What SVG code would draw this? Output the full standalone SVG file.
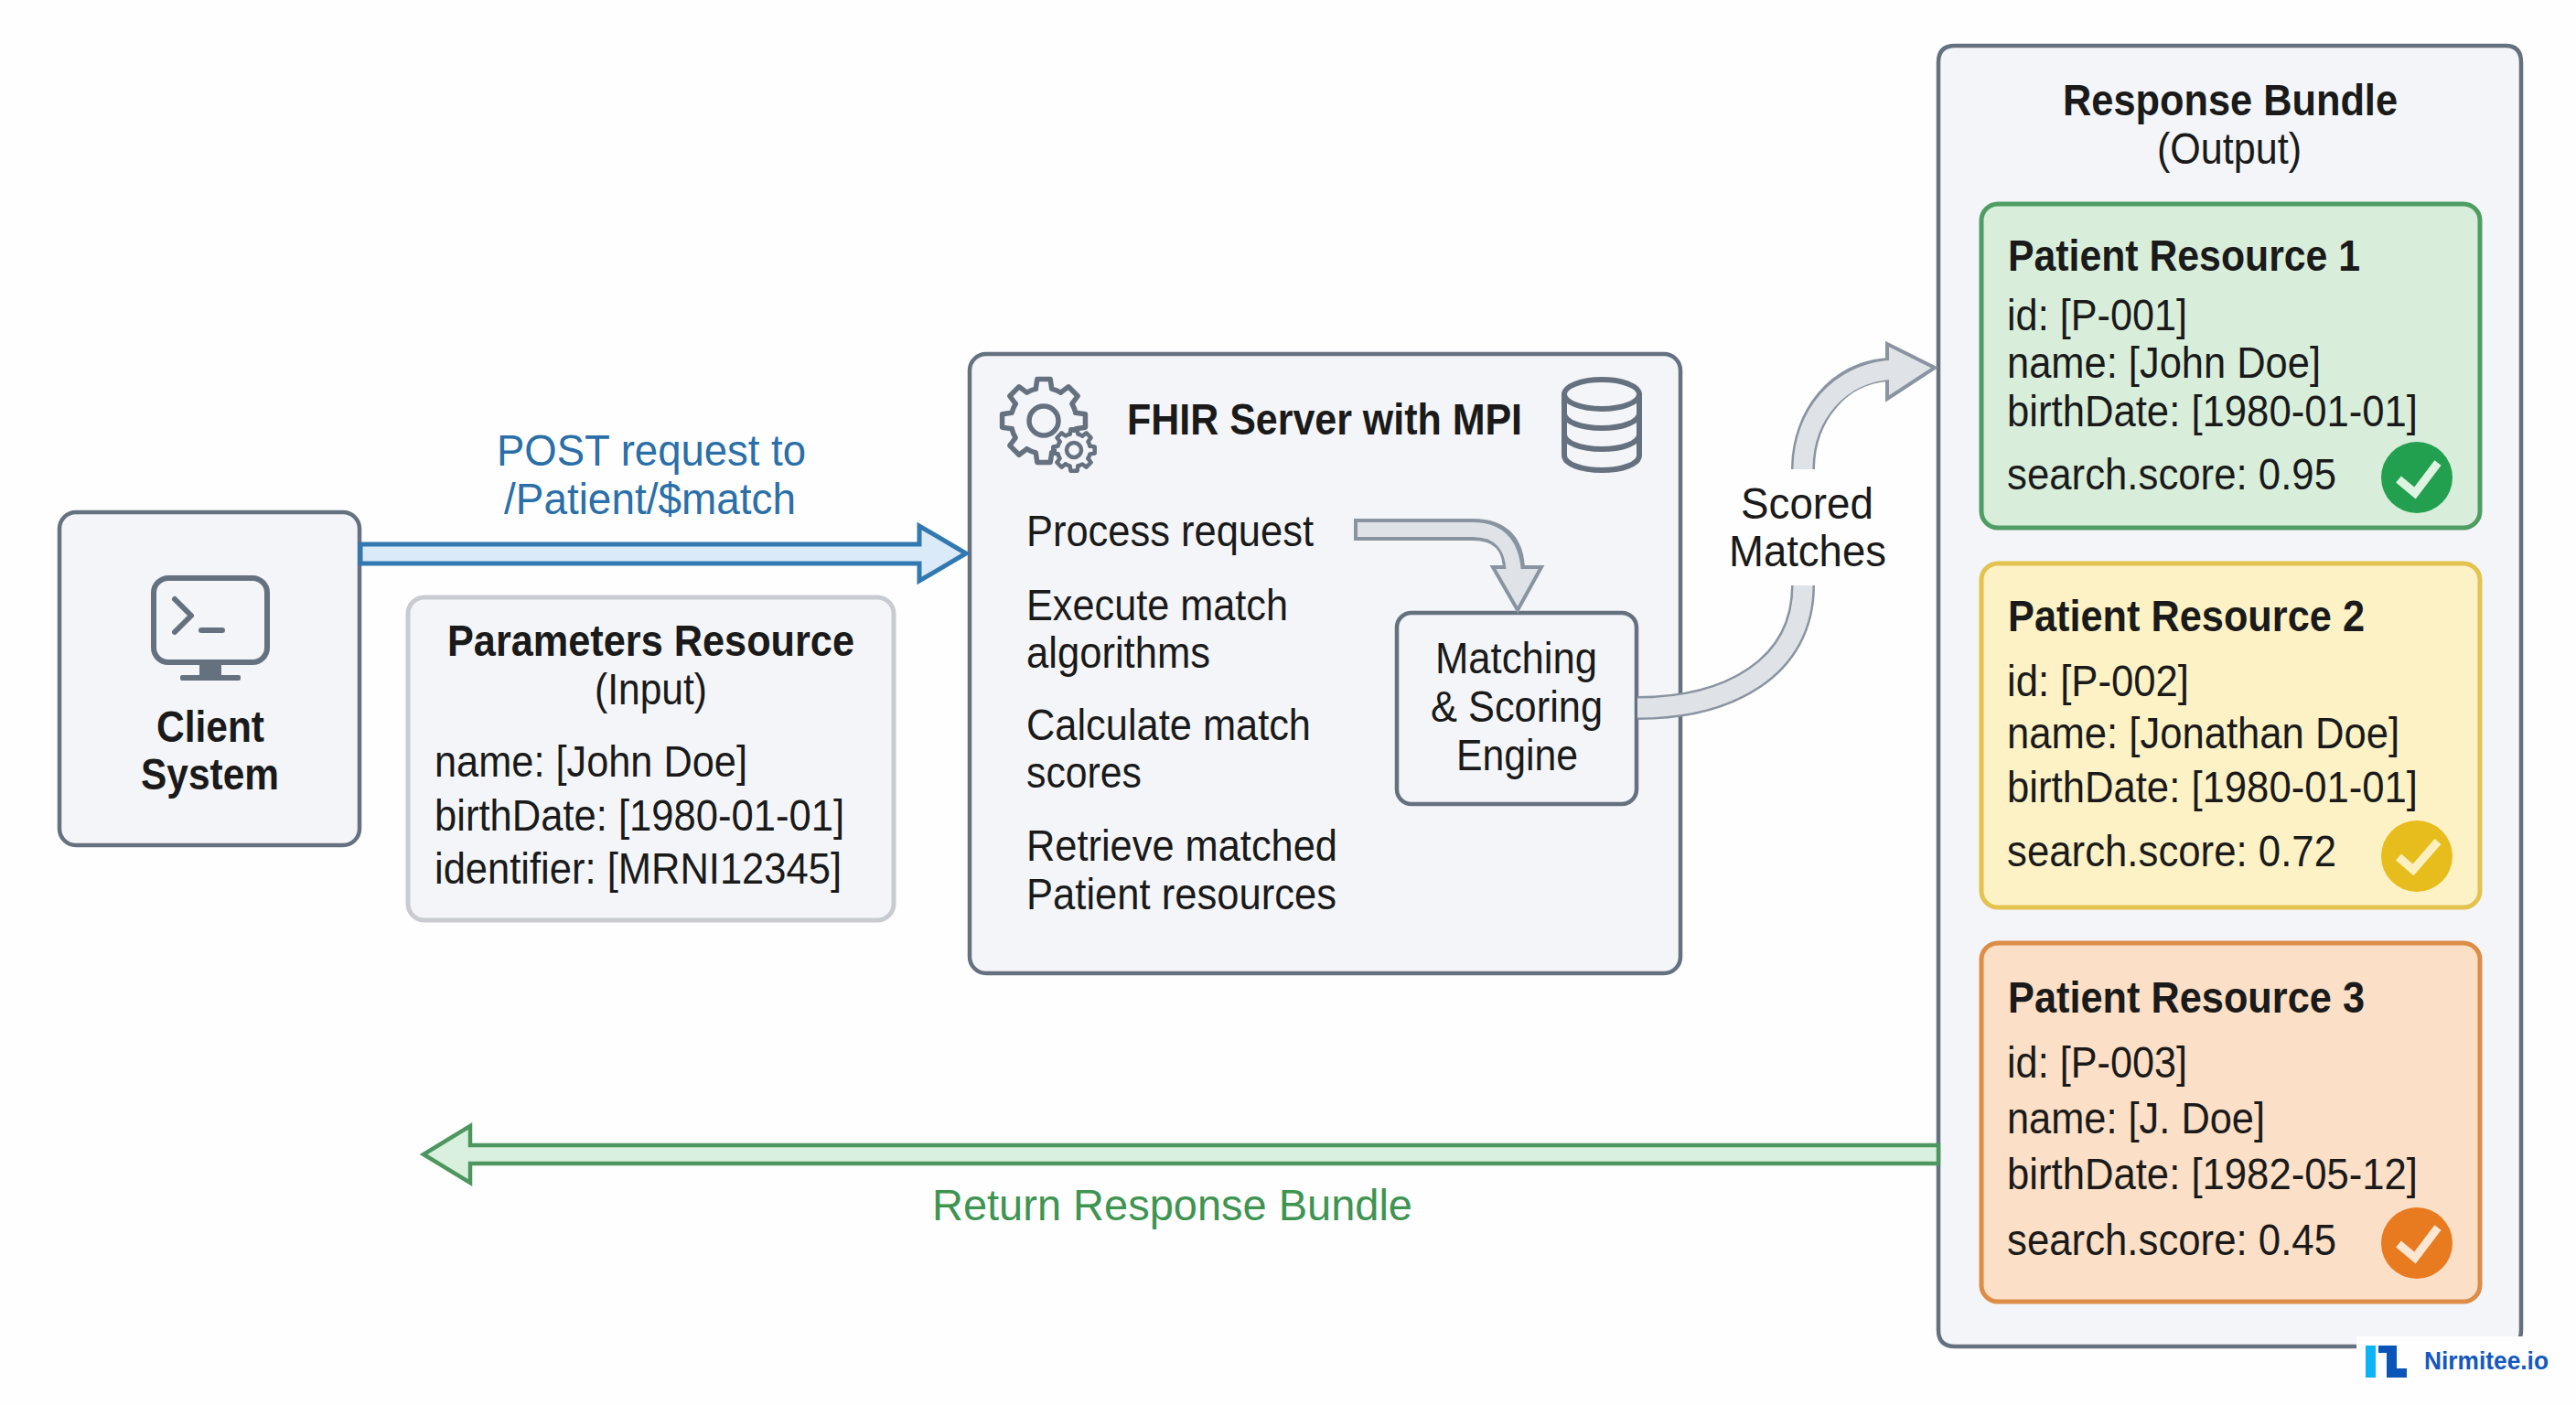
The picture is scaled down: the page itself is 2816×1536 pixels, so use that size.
<svg xmlns="http://www.w3.org/2000/svg" xmlns:xlink="http://www.w3.org/1999/xlink" width="2816" height="1536" viewBox="0 0 2816 1536">
<style>
text{font-family:"Liberation Sans",Arial,sans-serif;font-size:49px;fill:#1a1a1a}
.b{font-weight:700}
.box{fill:#f3f5f8;stroke:#667180;stroke-width:4.5}
.ico{fill:none;stroke:#667180;stroke-width:6;stroke-linejoin:round;stroke-linecap:round}
.chk{fill:none;stroke-width:9;stroke-linejoin:miter}
.dk{fill:none;stroke:#8a94a1}
.lt{fill:none;stroke:#dfe3e8}
.hd{fill:#dfe3e8;stroke:#8a94a1;stroke-width:4;stroke-linejoin:miter}
</style>
<defs>
<path id="seg" d="M34.93 -8.71L45.43 -7.2L45.43 7.2L34.93 8.71A36 36 0 0 1 30.86 18.54"/>
<g id="gear"><use xlink:href="#seg"/><use xlink:href="#seg" transform="rotate(45)"/><use xlink:href="#seg" transform="rotate(90)"/><use xlink:href="#seg" transform="rotate(135)"/><use xlink:href="#seg" transform="rotate(180)"/><use xlink:href="#seg" transform="rotate(225)"/><use xlink:href="#seg" transform="rotate(270)"/><use xlink:href="#seg" transform="rotate(315)"/></g>
</defs>
<rect width="2816" height="1536" fill="#fefefe"/>

<g id="client-system">
<rect class="box" x="65" y="560" width="328" height="364" rx="18"/>
<rect class="ico" x="168" y="632" width="124" height="92" rx="16"/>
<path class="ico" d="M191 655L209 673L191 691M220 689H243"/>
<path d="M218 724H242V738H218Z" fill="#667180"/><rect x="197" y="738" width="66" height="6" rx="2" fill="#667180"/>
<text class="b" x="171" y="811" textLength="118" lengthAdjust="spacingAndGlyphs">Client</text>
<text class="b" x="154" y="863" textLength="151" lengthAdjust="spacingAndGlyphs">System</text>
</g>

<g id="parameters-resource">
<rect x="446" y="653" width="531" height="353" rx="18" fill="#f3f5f8" stroke="#c8ccd1" stroke-width="5"/>
<text class="b" x="489" y="717" textLength="445" lengthAdjust="spacingAndGlyphs">Parameters Resource</text>
<text x="650" y="770" textLength="123" lengthAdjust="spacingAndGlyphs">(Input)</text>
<text x="475" y="849" textLength="342" lengthAdjust="spacingAndGlyphs">name: [John Doe]</text>
<text x="475" y="908" textLength="448" lengthAdjust="spacingAndGlyphs">birthDate: [1980-01-01]</text>
<text x="475" y="966" textLength="445" lengthAdjust="spacingAndGlyphs">identifier: [MRNI12345]</text>
</g>

<g id="fhir-server">
<rect class="box" x="1060" y="387" width="777" height="677" rx="18"/>
<g class="ico" transform="translate(1141 460)" style="stroke-width:5.5"><use xlink:href="#gear"/><circle r="16"/></g>
<circle cx="1174" cy="492" r="19" fill="#f3f5f8"/>
<g class="ico" transform="translate(1174 492) scale(.5)" style="stroke-width:9"><use xlink:href="#gear"/><circle r="16"/></g>
<text class="b" x="1232" y="475" textLength="432" lengthAdjust="spacingAndGlyphs">FHIR Server with MPI</text>
<g class="ico">
<ellipse cx="1751" cy="431" rx="41" ry="16"/>
<path d="M1710 431V498C1710 507 1728 514 1751 514S1792 507 1792 498V431M1710 452C1710 461 1728 468 1751 468S1792 461 1792 452M1710 475C1710 484 1728 491 1751 491S1792 484 1792 475"/>
</g>
<text x="1122" y="597" textLength="314" lengthAdjust="spacingAndGlyphs">Process request</text>
<text x="1122" y="678" textLength="286" lengthAdjust="spacingAndGlyphs">Execute match</text>
<text x="1122" y="730" textLength="201" lengthAdjust="spacingAndGlyphs">algorithms</text>
<text x="1122" y="809" textLength="311" lengthAdjust="spacingAndGlyphs">Calculate match</text>
<text x="1122" y="861" textLength="126" lengthAdjust="spacingAndGlyphs">scores</text>
<text x="1122" y="941" textLength="340" lengthAdjust="spacingAndGlyphs">Retrieve matched</text>
<text x="1122" y="994" textLength="339" lengthAdjust="spacingAndGlyphs">Patient resources</text>
</g>

<g id="matching-engine">
<rect x="1527" y="670" width="262" height="209" rx="16" fill="#f3f5f8" stroke="#667180" stroke-width="4.5"/>
<text x="1569" y="736" textLength="177" lengthAdjust="spacingAndGlyphs">Matching</text>
<text x="1564" y="789" textLength="188" lengthAdjust="spacingAndGlyphs">&amp; Scoring</text>
<text x="1592" y="842" textLength="133" lengthAdjust="spacingAndGlyphs">Engine</text>
</g>

<g id="response-bundle">
<path class="box" d="M2119 68Q2119 50 2137 50H2739Q2756 50 2756 68V1454Q2756 1472 2739 1472H2137Q2119 1472 2119 1454Z"/>
<text class="b" x="2255" y="126" textLength="366" lengthAdjust="spacingAndGlyphs">Response Bundle</text>
<text x="2358" y="179" textLength="158" lengthAdjust="spacingAndGlyphs">(Output)</text>
</g>

<g id="patient-1">
<rect x="2166" y="223" width="545" height="354" rx="18" fill="#d8eedb" stroke="#4f9d63" stroke-width="5"/>
<text class="b" x="2195" y="296" textLength="385" lengthAdjust="spacingAndGlyphs">Patient Resource 1</text>
<text x="2194" y="361" textLength="197" lengthAdjust="spacingAndGlyphs">id: [P-001]</text>
<text x="2194" y="413" textLength="343" lengthAdjust="spacingAndGlyphs">name: [John Doe]</text>
<text x="2194" y="466" textLength="449" lengthAdjust="spacingAndGlyphs">birthDate: [1980-01-01]</text>
<text x="2194" y="535" textLength="360" lengthAdjust="spacingAndGlyphs">search.score: 0.95</text>
<circle cx="2642" cy="522" r="39" fill="#23a04f"/>
<path class="chk" stroke="#dff3e2" d="M2622 524L2640 539L2665 506"/>
</g>

<g id="patient-2">
<rect x="2166" y="616" width="545" height="376" rx="18" fill="#fdf2c6" stroke="#e3c24f" stroke-width="5"/>
<text class="b" x="2195" y="690" textLength="390" lengthAdjust="spacingAndGlyphs">Patient Resource 2</text>
<text x="2194" y="761" textLength="199" lengthAdjust="spacingAndGlyphs">id: [P-002]</text>
<text x="2194" y="818" textLength="429" lengthAdjust="spacingAndGlyphs">name: [Jonathan Doe]</text>
<text x="2194" y="877" textLength="449" lengthAdjust="spacingAndGlyphs">birthDate: [1980-01-01]</text>
<text x="2194" y="947" textLength="360" lengthAdjust="spacingAndGlyphs">search.score: 0.72</text>
<circle cx="2642" cy="936" r="39" fill="#e6bd1c"/>
<path class="chk" stroke="#fdf0c0" d="M2622 937L2638 951L2665 920"/>
</g>

<g id="patient-3">
<rect x="2166" y="1031" width="545" height="392" rx="18" fill="#fbdfc6" stroke="#dc8d47" stroke-width="5"/>
<text class="b" x="2195" y="1107" textLength="390" lengthAdjust="spacingAndGlyphs">Patient Resource 3</text>
<text x="2194" y="1178" textLength="197" lengthAdjust="spacingAndGlyphs">id: [P-003]</text>
<text x="2194" y="1239" textLength="282" lengthAdjust="spacingAndGlyphs">name: [J. Doe]</text>
<text x="2194" y="1300" textLength="449" lengthAdjust="spacingAndGlyphs">birthDate: [1982-05-12]</text>
<text x="2194" y="1372" textLength="360" lengthAdjust="spacingAndGlyphs">search.score: 0.45</text>
<circle cx="2642" cy="1359" r="39" fill="#e87a20"/>
<path class="chk" stroke="#fde7d3" d="M2622 1360L2640 1375L2665 1342"/>
</g>

<g id="connectors">
<path d="M394 595H1005V575L1056 605L1005 635V616H394Z" fill="#dbeaf8" stroke="#3179b0" stroke-width="5"/>
<text x="543" y="509" textLength="338" lengthAdjust="spacingAndGlyphs" style="fill:#2a6fa8">POST request to</text>
<text x="551" y="562" textLength="319" lengthAdjust="spacingAndGlyphs" style="fill:#2a6fa8">/Patient/$match</text>

<path d="M2119 1252H514V1231L463 1262L514 1293V1272H2119Z" fill="#d8f0dd" stroke="#4d965f" stroke-width="4.5"/>
<text x="1019" y="1334" textLength="525" lengthAdjust="spacingAndGlyphs" style="fill:#3f9452">Return Response Bundle</text>

<path class="dk" stroke-width="24" d="M1480 579H1610Q1655 579 1655 625"/>
<path class="hd" d="M1632 620H1685L1659 667Z"/>
<path class="lt" stroke-width="16" d="M1484 579H1610Q1655 579 1655 632"/>

<path class="dk" stroke-width="26" d="M1790 774C1890 774 1971 730 1971 640"/>
<path class="lt" stroke-width="21" d="M1790 774C1890 774 1971 730 1971 640"/>
<path class="dk" stroke-width="26" d="M1971 513C1971 455 2010 406 2066 404"/>
<path class="hd" d="M2063 376L2115 402L2063 436Z"/>
<path class="lt" stroke-width="21" d="M1971 513C1971 455 2010 406 2072 404"/>
<text x="1903" y="567" textLength="145" lengthAdjust="spacingAndGlyphs">Scored</text>
<text x="1890" y="619" textLength="172" lengthAdjust="spacingAndGlyphs">Matches</text>
</g>

<g id="brand">
<rect x="2576" y="1461" width="240" height="75" fill="#fefefe"/>
<rect x="2586" y="1471" width="11" height="35" fill="#0cb4f5"/>
<path d="M2600 1471H2620V1496H2631V1506H2609V1479H2600Z" fill="#0b55b8"/>
<text x="2650" y="1497" textLength="136" lengthAdjust="spacingAndGlyphs" style="font-size:28px;font-weight:700;fill:#1558bd">Nirmitee.io</text>
</g>
</svg>
